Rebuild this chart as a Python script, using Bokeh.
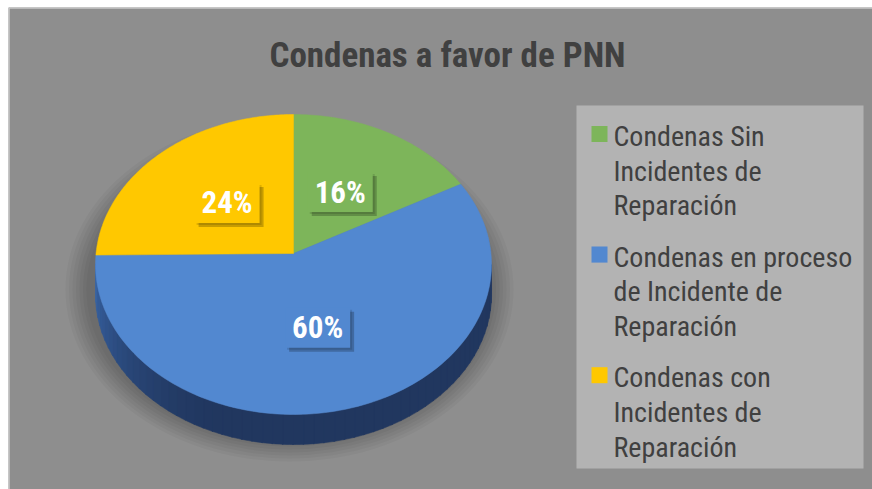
import numpy as np
from bokeh.plotting import figure
from bokeh.models import Range1d
from bokeh.embed import file_html
from bokeh.resources import INLINE
from bokeh.core.properties import value

# ---------------- data ----------------
title_text = "Condenas a favor de PNN"
categories = [
    "Condenas Sin\nIncidentes de\nReparación",
    "Condenas en proceso\nde Incidente de\nReparación",
    "Condenas con\nIncidentes de\nReparación",
]
shares = [16, 60, 24]
label_texts = ["16%", "60%", "24%"]
colors = ["#7db55a", "#5288d0", "#ffc800"]

# ---------------- layout (coordinates = picture pixels, y down) ----------------
X0, Y0, X1, Y1 = 8, 7, 872, 489
FONT = "Roboto Condensed"
BG = "#8e8e8e"

cx, cy = 293.0, 264.0      # ellipse centre
apex_y = 253.0             # where slices meet
rx, ry = 198.0, 150.0
depth = 30.0

p = figure(width=X1 - X0, height=Y1 - Y0, output_backend="svg", toolbar_location=None,
           x_range=Range1d(X0, X1), y_range=Range1d(Y1, Y0),
           min_border=0, background_fill_color=BG, border_fill_color=BG,
           outline_line_color=None)
p.margin = (Y0, 0, 0, X0)
p.axis.visible = False
p.grid.visible = False

# thin light frame on the top and left edges
p.line(x=[X0 + 0.5, X0 + 0.5, X1], y=[Y1, Y0 + 0.5, Y0 + 0.5], line_color="#c8c8c8",
       line_width=1.5)


def ell(theta_deg, yc=cy, f=1.0):
    t = np.radians(theta_deg)
    return cx + f * rx * np.sin(t), yc - f * ry * np.cos(t)


# soft shadow under the pie
for k in range(7):
    p.ellipse(x=cx - 4, y=cy + depth * 0.7 + 4, width=2 * rx + 10 + k * 7,
              height=2 * ry + 8 + k * 6, fill_color="black", fill_alpha=0.035,
              line_color=None)

# side wall (front half; it all belongs to the big slice)
nstrip = 60
th = np.linspace(90, 270, nstrip + 1)


def side_col(t):
    a = np.clip((t - 200) / 70.0, 0, 1) ** 1.6
    c0 = np.array([0x21, 0x37, 0x5f]); c1 = np.array([0x3a, 0x66, 0xa8])
    c = (c0 + (c1 - c0) * a).astype(int)
    return "#%02x%02x%02x" % tuple(c)


xs_side, ys_side, cs_side = [], [], []
for i in range(nstrip):
    tt = np.linspace(th[i], th[i + 1] + 0.3, 4)
    x1, y1 = ell(tt)
    xs_side.append(list(x1) + list(x1[::-1]))
    ys_side.append(list(y1) + list((y1 + depth)[::-1]))
    cs_side.append(side_col((th[i] + th[i + 1]) / 2))
p.patches(xs_side, ys_side, fill_color=cs_side, line_color=cs_side, line_width=0.6)

# top surface slices
total = float(sum(shares))
starts = np.cumsum([0] + shares[:-1]) / total * 360.0
ends = np.cumsum(shares) / total * 360.0
xs_top, ys_top = [], []
for s, e in zip(starts, ends):
    tt = np.linspace(s, e, 120)
    ax, ay = ell(tt)
    xs_top.append([cx] + list(ax) + [cx])
    ys_top.append([apex_y] + list(ay) + [apex_y])
p.patches(xs_top, ys_top, fill_color=colors, line_color=colors, line_width=0.5)

# data labels (boxes with shadow)
mids = (starts + ends) / 2.0
lab_cy = apex_y + 3
lx = cx + 0.49 * rx * np.sin(np.radians(mids))
ly = lab_cy - 0.49 * ry * np.cos(np.radians(mids))
p.rect(x=lx + 4, y=ly + 4, width=65, height=40, fill_color="black",
       fill_alpha=0.22, line_color=None)
p.rect(x=lx + 2, y=ly + 2, width=65, height=40, fill_color="black",
       fill_alpha=0.12, line_color=None)
p.rect(x=lx, y=ly, width=65, height=40, fill_color=colors, line_color=None)
p.text(x=lx, y=ly, text=label_texts, text_font=value(FONT),
       text_font_style="bold", text_font_size="31px", text_color="white",
       text_align="center", text_baseline="middle")

# title
p.text(x=[447], y=[55], text=[title_text], text_font=value(FONT),
       text_font_style="bold", text_font_size="35px", text_color="#404040",
       text_align="center", text_baseline="middle")

# legend (drawn by hand to keep the wrapped three-line entries)
p.quad(left=[576], right=[863], top=[105], bottom=[468], fill_color="#b3b3b3",
       line_color=None)
item_step = 120.6
line_step = 34.7
sq_y = [133.5 + i * item_step for i in range(len(categories))]
p.rect(x=[599] * len(categories), y=sq_y, width=16, height=16,
       fill_color=colors, line_color=None)
tx, ty, tt_ = [], [], []
for i, cat in enumerate(categories):
    for j, line in enumerate(cat.split("\n")):
        tx.append(613)
        ty.append(136 + i * item_step + j * line_step)
        tt_.append(line)
p.text(x=tx, y=ty, text=tt_, text_font=value(FONT), text_font_size="28px",
       text_color="#404040", text_align="left", text_baseline="middle")

open("out.html", "w").write(file_html(p, INLINE))
